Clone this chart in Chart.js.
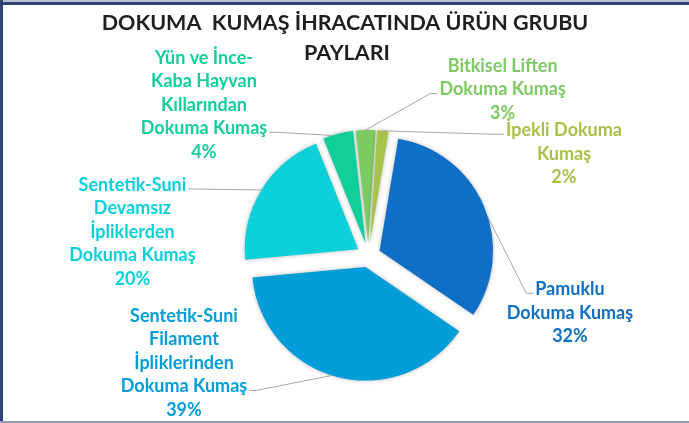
<!DOCTYPE html>
<html>
<head>
<meta charset="utf-8">
<script src="https://cdn.jsdelivr.net/npm/chart.js@4.4.1/dist/chart.umd.min.js"></script>
<style>
html,body{margin:0;padding:0;background:#ffffff;overflow:hidden;}
#wrap{position:relative;width:689px;height:423px;}
</style>
</head>
<body>
<div id="wrap"><canvas id="c" width="689" height="423"></canvas></div>
<script>
// ---------- data ----------
const titleLines = ['DOKUMA  KUMAŞ İHRACATINDA ÜRÜN GRUBU', 'PAYLARI'];
const categories = [
  'Pamuklu Dokuma Kumaş',
  'Sentetik-Suni Filament İpliklerinden Dokuma Kumaş',
  'Sentetik-Suni Devamsız İpliklerden Dokuma Kumaş',
  'Yün ve İnce-Kaba Hayvan Kıllarından Dokuma Kumaş',
  'Bitkisel Liften Dokuma Kumaş',
  'İpekli Dokuma Kumaş'
];
const labelLines = [
  ['Pamuklu', 'Dokuma Kumaş'],
  ['Sentetik-Suni', 'Filament', 'İpliklerinden', 'Dokuma Kumaş'],
  ['Sentetik-Suni', 'Devamsız', 'İpliklerden', 'Dokuma Kumaş'],
  ['Yün ve İnce-', 'Kaba Hayvan', 'Kıllarından', 'Dokuma Kumaş'],
  ['Bitkisel Liften', 'Dokuma Kumaş'],
  ['İpekli Dokuma', 'Kumaş']
];
const shares = [31.9, 39.0, 20.4, 4.3, 2.8, 1.6];
const sliceColors = ['#0F6FC6', '#009DD9', '#0BD0D9', '#10CF9B', '#7CCA62', '#A5C249'];

// ---------- style / layout ----------
const EXPLODE = 12;
const LABEL_FONT = 'bold 18px Lato';
const LINE_H = 23.5;
// label block placement relative to the slice's outer mid point
const labelLayout = [
  {dx: 86,   dy: 106.5, line: 0, side: 'left',  t: 0.55},
  {dx: -153, dy: -14,   line: 3, side: 'right', t: 0.52},
  {dx: -129, dy: 42,    line: 0, side: 'right', t: 0.5},
  {dx: -134, dy: -29,   line: 3, side: 'right', t: 0.3},
  {dx: 137,  dy: -40.5, line: 1, side: 'left',  t: 0.5},
  {dx: 181,  dy: 23,    line: 0, side: 'left',  t: 0.5}
];

const total = shares.reduce((a, b) => a + b, 0);

const framePlugin = {
  id: 'frame',
  afterDraw(chart) {
    const ctx = chart.ctx;
    const W = chart.width, H = chart.height;
    ctx.save();
    ctx.fillStyle = '#b7c2d3';
    ctx.fillRect(0, 0, W, 2);
    ctx.fillStyle = '#2f4374';
    ctx.fillRect(0, 2, W, 3);
    ctx.fillRect(0, 0, 3, H);
    ctx.fillStyle = '#8e9bb0';
    ctx.fillRect(0, H - 2, W, 2);
    // title
    ctx.fillStyle = '#1f1f1f';
    ctx.font = 'bold 21.5px Lato';
    ctx.textAlign = 'center';
    ctx.textBaseline = 'middle';
    ctx.fillText(titleLines[0], 345, 23);
    ctx.fillText(titleLines[1], 347, 53);
    ctx.restore();
  }
};

const explodePlugin = {
  id: 'explode',
  beforeDatasetDraw(chart, args) {
    const ctx = chart.ctx;
    const meta = args.meta;
    meta.data.forEach(arc => {
      const p = arc.getProps(['startAngle', 'endAngle']);
      const mid = (p.startAngle + p.endAngle) / 2;
      ctx.save();
      ctx.shadowColor = 'rgba(0,0,0,0.28)';
      ctx.shadowBlur = 4;
      ctx.translate(Math.cos(mid) * EXPLODE, Math.sin(mid) * EXPLODE);
      arc.draw(ctx);
      ctx.restore();
    });
    return false;
  }
};

const labelPlugin = {
  id: 'sliceLabels',
  afterDatasetsDraw(chart) {
    const ctx = chart.ctx;
    const meta = chart.getDatasetMeta(0);
    ctx.save();
    ctx.font = LABEL_FONT;
    ctx.textAlign = 'center';
    ctx.textBaseline = 'middle';
    meta.data.forEach((arc, i) => {
      const p = arc.getProps(['x', 'y', 'startAngle', 'endAngle', 'outerRadius']);
      const mid = (p.startAngle + p.endAngle) / 2;
      const ex = Math.cos(mid) * EXPLODE, ey = Math.sin(mid) * EXPLODE;
      const ax = p.x + Math.cos(mid) * (p.outerRadius + EXPLODE);
      const ay = p.y + Math.sin(mid) * (p.outerRadius + EXPLODE);
      const L = labelLayout[i];
      const lines = labelLines[i].concat([Math.round(shares[i] / total * 100) + '%']);
      const cx = ax + L.dx;
      const cy0 = ay + L.dy - (lines.length - 1) * LINE_H / 2;
      // leader line
      const la = p.startAngle + L.t * (p.endAngle - p.startAngle);
      const sx = p.x + ex + Math.cos(la) * p.outerRadius;
      const sy = p.y + ey + Math.sin(la) * p.outerRadius;
      const tw = ctx.measureText(lines[L.line]).width;
      const ly = cy0 + L.line * LINE_H + 4;
      const edge = L.side === 'left' ? cx - tw / 2 - 2 : cx + tw / 2 + 2;
      const elbow = L.side === 'left' ? edge - 7 : edge + 7;
      ctx.strokeStyle = '#a6a6a6';
      ctx.lineWidth = 1;
      ctx.beginPath();
      ctx.moveTo(sx, sy);
      ctx.lineTo(elbow, ly);
      ctx.lineTo(edge, ly);
      ctx.stroke();
      ctx.fillStyle = sliceColors[i];
      lines.forEach((t, k) => ctx.fillText(t, cx, cy0 + k * LINE_H));
    });
    ctx.restore();
  }
};

new Chart(document.getElementById('c'), {
  type: 'pie',
  data: {
    labels: categories,
    datasets: [{
      data: shares,
      backgroundColor: sliceColors,
      borderWidth: 0
    }]
  },
  options: {
    responsive: false,
    animation: false,
    rotation: 9.5,
    layout: {padding: {top: 142, left: 255, right: 207, bottom: 54}},
    plugins: {
      legend: {display: false},
      title: {display: false},
      tooltip: {enabled: false}
    },
    events: []
  },
  plugins: [explodePlugin, labelPlugin, framePlugin]
});
</script>
</body>
</html>
